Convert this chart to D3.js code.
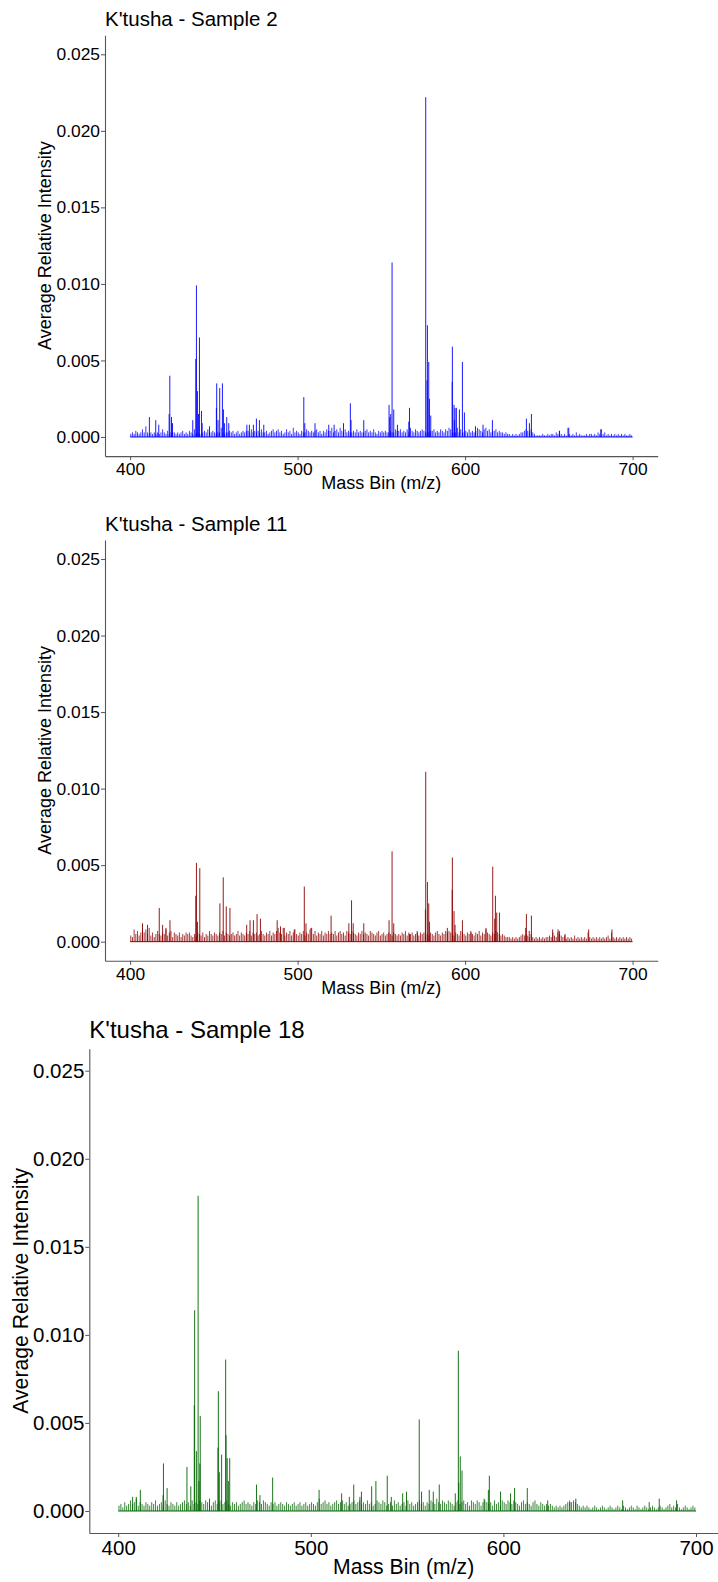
<!DOCTYPE html>
<html>
<head>
<meta charset="utf-8">
<script src="https://cdn.jsdelivr.net/npm/d3@7/dist/d3.min.js"></script>
<style>
  html, body { margin: 0; padding: 0; background: #fff; }
  svg { display: block; font-family: "Liberation Sans", Arial, sans-serif; }
</style>
</head>
<body>
<svg id="chart" width="718" height="1582"></svg>
<script>
// ---------- data ----------
const sampleTitles = ["K'tusha - Sample 2", "K'tusha - Sample 11", "K'tusha - Sample 18"];
const xTickValues = [400, 500, 600, 700];
const yTickValues = [0, 0.005, 0.010, 0.015, 0.020, 0.025];
const xTitle = "Mass Bin (m/z)";
const yTitle = "Average Relative Intensity";

// nominal mass bins carrying the low-level background signal
const nominalMass = d3.range(400, 700);

// prominent peaks: [m/z, average relative intensity]
const peaksSample2 = [
  [411.5,0.0013],[415.3,0.0011],[417.1,0.0008],[423.3,0.0015],[423.7,0.0040],[424.7,0.0013],
  [425.3,0.0009],[437.4,0.0011],[439.2,0.0051],[439.6,0.0099],[440.2,0.0030],[440.8,0.0015],
  [441.4,0.0065],[442.6,0.0017],[443.0,0.0009],[447.4,0.0007],[451.5,0.0019],[451.7,0.0035],
  [452.5,0.0011],[453.5,0.0032],[455.1,0.0035],[455.7,0.0018],[456.3,0.0009],[457.7,0.0013],
  [458.9,0.0009],[469.7,0.0008],[471.2,0.0008],[473.6,0.0008],[475.4,0.0012],[477.2,0.0011],
  [479.8,0.0008],[503.7,0.0026],[504.3,0.0009],[510.4,0.0009],[518.6,0.0008],[521.8,0.0008],
  [527.4,0.0009],[531.5,0.0022],[531.9,0.0011],[539.5,0.0011],[554.6,0.0021],[555.0,0.0013],
  [555.6,0.0015],[556.4,0.0114],[557.4,0.0018],[559.6,0.0008],[566.4,0.0010],[566.8,0.0019],
  [576.5,0.0222],[577.3,0.0037],[577.5,0.0073],[578.3,0.0049],[578.7,0.0025],[579.5,0.0014],
  [592.3,0.0036],[592.4,0.0059],[593.4,0.0021],[593.6,0.0011],[594.0,0.0019],[594.8,0.0019],
  [596.6,0.0018],[598.4,0.0049],[599.6,0.0016],[606.2,0.0007],[610.7,0.0008],[616.3,0.0011],
  [636.6,0.0012],[638.4,0.0009],[639.6,0.0015],[656.3,0.0004],[661.9,0.0006],[681.0,0.0005]
];
const peaksSample11 = [
  [407.4,0.0012],[410.4,0.0011],[417.4,0.0022],[419.4,0.0011],[421.4,0.0009],[423.8,0.0014],
  [439.2,0.0030],[439.6,0.00515],[440.2,0.0013],[441.6,0.0048],[453.6,0.0025],[455.6,0.0042],
  [457.4,0.0023],[459.6,0.0022],[469.6,0.0011],[471.6,0.0014],[473.6,0.0014],[475.8,0.0018],
  [477.8,0.0015],[487.8,0.0014],[489.8,0.0010],[492.0,0.0009],[498.0,0.0008],[504.0,0.0036],
  [505.0,0.0012],[508.0,0.0009],[520.0,0.0017],[530.6,0.0012],[532.2,0.0027],[533.2,0.0012],
  [539.5,0.0012],[554.6,0.0014],[556.4,0.0059],[557.4,0.0012],[566.8,0.0005],[571.5,0.0006],
  [576.3,0.0021],[576.5,0.0111],[577.5,0.0039],[578.3,0.0025],[578.7,0.0013],[589.4,0.0009],
  [592.3,0.0034],[592.4,0.0055],[593.4,0.0020],[594.0,0.0011],[598.4,0.0014],[603.6,0.0006],
  [612.5,0.0009],[616.5,0.0049],[617.7,0.0015],[618.1,0.0030],[618.9,0.0019],[620.5,0.0019],
  [636.2,0.0009],[636.6,0.0018],[638.3,0.0007],[639.6,0.0017],[652.3,0.0008],[655.5,0.0008],
  [656.3,0.0007],[659.7,0.0005],[673.8,0.0008],[687.7,0.0008]
];
const peaksSample18 = [
  [407.5,0.0008],[409.4,0.0008],[411.5,0.0012],[423.3,0.0009],[423.5,0.0027],[425.4,0.0013],
  [435.7,0.0025],[437.7,0.0014],[439.5,0.0060],[439.7,0.0114],[440.6,0.0034],[441.5,0.0179],
  [441.9,0.0017],[442.4,0.0027],[442.6,0.0054],[447.4,0.0007],[451.8,0.0036],[452.0,0.0068],
  [452.5,0.0022],[453.7,0.0032],[455.8,0.0086],[456.0,0.0043],[456.6,0.0030],[457.2,0.0017],
  [457.9,0.0030],[471.8,0.0015],[473.6,0.0009],[480.2,0.0019],[504.3,0.0012],[516.0,0.0010],
  [520.0,0.0008],[522.3,0.0015],[525.5,0.0008],[526.3,0.0011],[531.6,0.0014],[533.8,0.0017],
  [539.7,0.0020],[541.8,0.0008],[547.7,0.0010],[549.7,0.0011],[556.3,0.0052],[557.5,0.0011],
  [561.5,0.0012],[563.6,0.0011],[566.7,0.0015],[575.0,0.0010],[576.6,0.0091],[576.8,0.0016],
  [577.6,0.0031],[578.5,0.0023],[590.0,0.0007],[592.2,0.0012],[592.7,0.0020],[598.5,0.0011],
  [603.7,0.0010],[605.8,0.0013],[612.4,0.0013],[623.0,0.0006],[634.5,0.0005],[637.6,0.0007],
  [661.9,0.0006],[675.7,0.0005],[680.9,0.0007],[689.9,0.0006]
];

// background level per nominal mass, in units of 1e-4
const backgroundSample2 = [
  2,3,2,4,3,2,3,5,3,7,3,2,3,2,3,2,3,2,3,5,
  3,2,4,2,3,3,3,2,3,2,3,4,2,3,2,4,3,2,5,2,
  3,2,2,3,4,3,5,3,3,4,3,2,3,3,6,3,2,3,3,4,
  3,4,2,3,4,2,3,4,3,4,4,3,5,3,4,3,4,3,5,3,
  3,4,2,3,4,5,3,4,5,3,4,2,3,5,3,4,2,6,3,4,
  3,2,4,3,3,5,4,3,4,3,4,5,3,4,2,4,3,5,4,4,
  6,3,4,5,3,6,4,3,5,3,4,3,3,4,3,5,3,4,3,3,
  4,5,3,4,3,5,3,2,4,3,4,3,4,3,3,4,3,3,5,4,
  4,5,3,4,3,5,3,6,4,3,5,4,3,4,5,4,3,3,3,4,
  4,5,3,4,3,5,4,3,5,4,6,5,3,3,3,6,3,5,3,3,
  4,3,5,3,4,3,4,6,5,4,3,5,6,4,5,3,4,4,5,3,
  4,3,3,2,3,2,2,1,2,1,2,1,2,3,3,4,5,4,3,5,
  3,2,1,1,1,1,2,1,1,2,1,2,2,1,3,2,4,2,1,2,
  1,6,2,1,2,1,3,1,2,1,1,1,2,1,2,2,1,2,1,3,
  2,5,2,3,1,2,1,2,1,2,1,2,1,2,1,2,1,1,2,1
];
const backgroundSample11 = [
  4,3,8,5,7,4,6,9,6,8,5,9,4,6,3,5,7,5,4,6,
  5,8,4,6,7,3,6,5,4,6,3,5,4,6,5,6,4,3,5,4,
  6,5,4,6,3,5,4,7,5,4,6,5,4,6,5,7,4,6,5,4,
  5,6,4,5,7,4,6,5,4,6,5,7,4,6,5,6,4,5,7,5,
  4,6,5,7,4,6,5,7,9,6,5,9,4,6,5,7,4,6,8,5,
  4,6,5,7,4,6,5,8,9,5,7,4,6,5,7,4,6,5,7,5,
  6,5,7,4,6,7,5,6,4,7,6,5,7,6,5,4,6,5,7,5,
  6,5,4,7,6,5,4,6,7,4,5,6,4,5,6,5,4,6,5,4,
  5,4,6,5,7,4,6,5,6,4,5,7,4,6,5,6,4,5,4,6,
  5,4,6,7,5,4,6,5,7,6,7,6,5,4,6,5,4,7,6,5,
  4,6,5,7,5,4,6,5,7,4,6,5,8,6,5,4,6,5,7,6,
  5,4,5,4,3,3,3,2,3,2,3,2,3,4,5,4,5,4,3,5,
  3,2,3,2,3,2,3,2,3,3,4,3,6,4,3,6,5,4,3,4,
  2,3,2,3,2,4,2,3,2,3,2,3,2,6,3,2,3,2,3,2,
  3,2,3,2,3,4,2,6,3,2,3,2,3,2,3,2,3,2,3,2
];
const backgroundSample18 = [
  3,4,2,5,3,4,6,4,5,7,3,5,4,3,5,4,3,5,4,6,
  3,4,5,3,6,4,3,5,4,3,5,3,4,5,6,4,5,3,6,4,
  5,4,6,5,4,6,5,4,3,5,6,4,5,6,4,5,6,4,3,5,
  4,5,3,4,5,6,4,5,4,3,5,4,6,5,4,6,5,4,3,5,
  4,5,3,4,5,4,3,5,4,3,4,5,3,4,5,3,4,5,3,4,
  5,4,3,5,7,4,5,6,4,5,3,4,5,6,4,5,6,4,5,3,
  4,5,6,4,5,6,4,5,4,6,4,5,3,4,6,5,4,6,5,3,
  4,5,3,6,4,5,3,4,5,3,6,4,5,3,4,5,6,4,5,3,
  5,4,6,5,4,7,5,4,6,5,4,6,5,4,3,5,6,4,5,6,
  4,5,3,6,5,4,6,5,3,5,6,5,4,5,3,6,4,5,3,6,
  5,4,6,5,4,6,5,4,3,5,6,4,5,4,3,5,6,4,3,5,
  4,3,4,3,4,3,2,3,2,3,2,3,4,5,6,5,6,5,4,3,
  2,3,2,3,2,1,2,3,2,1,2,3,2,1,2,3,2,1,2,3,
  2,1,3,2,1,2,3,2,1,3,2,1,2,3,2,1,2,3,2,1,
  2,3,2,1,2,3,4,2,3,2,4,2,1,2,3,2,1,2,3,2
];

// ---------- layout ----------
const panels = [
  { title: sampleTitles[0], color: "#0000FF", peaks: peaksSample2, background: backgroundSample2,
    x: [105, 657.7], y: [456.1, 35.2], titleY: 26, titleSize: 20.5, tickSize: 17.4, labelSize: 18,
    xTitleY: 489, yTitleX: 45 },
  { title: sampleTitles[1], color: "#8B0000", peaks: peaksSample11, background: backgroundSample11,
    x: [105, 657.7], y: [960.8, 539.9], titleY: 531, titleSize: 20.5, tickSize: 17.4, labelSize: 18,
    xTitleY: 994, yTitleX: 45 },
  { title: sampleTitles[2], color: "#006400", peaks: peaksSample18, background: backgroundSample18,
    x: [89.3, 724.9], y: [1533, 1048.7], titleY: 1038, titleSize: 24, tickSize: 20.5, labelSize: 21.2,
    xTitleY: 1574, yTitleX: 21 }
];

const svg = d3.select("#chart");

panels.forEach(p => {
  const x = d3.scaleLinear().domain([385, 715]).range(p.x);
  const y = d3.scaleLinear().domain([-0.00125, 0.02625]).range(p.y);
  const g = svg.append("g");

  // baseline of the spectrum
  g.append("line")
    .attr("x1", x(400)).attr("x2", x(700))
    .attr("y1", y(0)).attr("y2", y(0))
    .attr("stroke", p.color).attr("stroke-width", 1);

  // background signal at each nominal mass
  const bg = nominalMass.map((m, i) => [m + 0.4, (p.background[i] || 0) * 1e-4]);
  g.append("g").selectAll("line").data(bg).join("line")
    .attr("x1", d => x(d[0])).attr("x2", d => x(d[0]))
    .attr("y1", y(0)).attr("y2", d => y(d[1]))
    .attr("stroke", p.color).attr("stroke-width", 0.9).attr("stroke-opacity", 0.85);

  // prominent peaks
  g.append("g").selectAll("line").data(p.peaks).join("line")
    .attr("x1", d => x(d[0])).attr("x2", d => x(d[0]))
    .attr("y1", y(0)).attr("y2", d => y(d[1]))
    .attr("stroke", p.color).attr("stroke-width", 0.9);

  // axes
  const xAxis = g.append("g")
    .attr("transform", `translate(0,${p.y[0]})`)
    .call(d3.axisBottom(x).tickValues(xTickValues).tickSize(4).tickPadding(3).tickSizeOuter(0));
  const yAxis = g.append("g")
    .attr("transform", `translate(${p.x[0]},0)`)
    .call(d3.axisLeft(y).tickValues(yTickValues).tickFormat(d3.format(".3f")).tickSize(4).tickPadding(1).tickSizeOuter(0));
  [xAxis, yAxis].forEach(a => {
    a.select(".domain").attr("stroke", "#555").attr("stroke-width", 1.1);
    a.selectAll(".tick line").attr("stroke", "#555").attr("stroke-width", 1);
    a.selectAll(".tick text").attr("fill", "#000")
      .style("font-size", p.tickSize + "px")
      .style("font-family", "'Liberation Sans', Arial, sans-serif");
  });

  // titles
  g.append("text")
    .attr("x", p.x[0]).attr("y", p.titleY)
    .style("font-size", p.titleSize + "px").attr("fill", "#000")
    .text(p.title);
  g.append("text")
    .attr("x", (p.x[0] + Math.min(p.x[1], 718)) / 2)
    .attr("y", p.xTitleY).attr("text-anchor", "middle")
    .style("font-size", p.labelSize + "px").attr("fill", "#000")
    .text(xTitle);
  g.append("text")
    .attr("transform", `translate(${p.yTitleX},${(p.y[0] + p.y[1]) / 2}) rotate(-90)`)
    .attr("text-anchor", "middle").attr("dy", "0.35em")
    .style("font-size", p.labelSize + "px").attr("fill", "#000")
    .text(yTitle);
});
</script>
</body>
</html>
